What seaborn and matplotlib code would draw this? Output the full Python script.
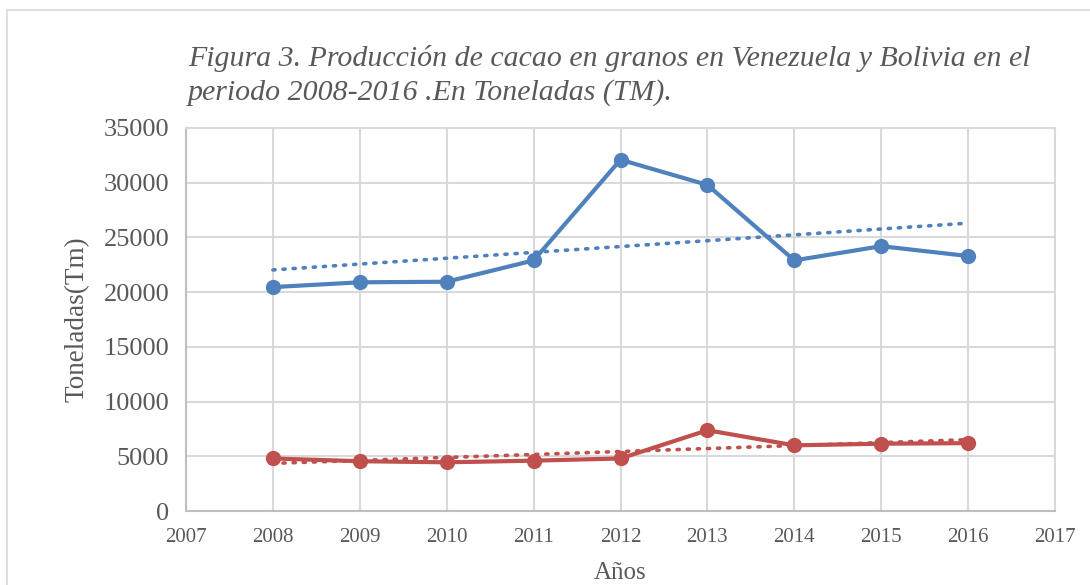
import numpy as np
import pandas as pd
import seaborn as sns
import matplotlib.pyplot as plt
from matplotlib.patches import Rectangle

YEARS = [2008, 2009, 2010, 2011, 2012, 2013, 2014, 2015, 2016]
VENEZUELA = [20460, 20900, 20950, 22900, 32100, 29800, 22900, 24200, 23300]
BOLIVIA = [4800, 4550, 4450, 4600, 4800, 7380, 6000, 6150, 6200]
SERIES = ["Venezuela", "Bolivia"]
COLORS = ["#4F81BD", "#C0504D"]

TITLE = ("Figura 3. Producción de cacao en granos en Venezuela y Bolivia en el\n"
         "periodo 2008-2016 .En Toneladas (TM).")

TEXT = "#595959"
GRID = "#D9D9D9"

df = pd.DataFrame({
    "year": YEARS * 2,
    "tm": VENEZUELA + BOLIVIA,
    "pais": [SERIES[0]] * len(YEARS) + [SERIES[1]] * len(YEARS),
})

sns.set_style("white")
plt.rcParams['font.family'] = ['Liberation Serif', 'DejaVu Serif']

fig = plt.figure(figsize=(10.9, 5.85), dpi=100)
ax = fig.add_axes([186 / 1090, 1 - 511 / 585, 869 / 1090, 383 / 585])

ax.grid(True, color=GRID, linewidth=1.5, zorder=0)
ax.set_axisbelow(True)

# linear trend lines (like Excel's "Tendencia lineal")
for name, color in zip(SERIES, COLORS):
    sns.regplot(data=df[df.pais == name], x="year", y="tm", ax=ax, ci=None,
                scatter=False, truncate=True,
                line_kws=dict(color=color, linestyle=(0, (0.6, 2.2)),
                              linewidth=2.6, dash_capstyle='round', zorder=2))

sns.lineplot(data=df, x="year", y="tm", hue="pais", hue_order=SERIES,
             palette=COLORS, marker="o", markersize=11, markeredgewidth=0,
             linewidth=3, ax=ax, legend=False, zorder=3)

ax.set_xlim(2007, 2017)
ax.set_ylim(0, 35000)
ax.set_xticks(range(2007, 2018))
ax.set_yticks(range(0, 35001, 5000))
ax.tick_params(axis='x', labelsize=15, colors=TEXT, length=0, pad=12)
ax.tick_params(axis='y', labelsize=19, colors=TEXT, length=0, pad=12)

for side in ["top", "right"]:
    ax.spines[side].set_color(GRID)
    ax.spines[side].set_linewidth(1.5)
for side in ["left", "bottom"]:
    ax.spines[side].set_color("#BFBFBF")
    ax.spines[side].set_linewidth(1.5)

ax.set_xlabel("Años", fontsize=18, color=TEXT, labelpad=11)
ax.set_ylabel("Toneladas(Tm)", fontsize=19.5, color=TEXT, labelpad=10)

fig.text(188 / 1090, 1 - 45 / 585, TITLE, fontsize=21.5, style='italic',
         color=TEXT, ha='left', va='top', linespacing=1.32)

# chart-area frame
fig.add_artist(Rectangle((7 / 1090, -0.05), 1.2, 1 - 10 / 585 + 0.05,
                         transform=fig.transFigure, fill=False,
                         edgecolor=GRID, linewidth=1.2))

fig.savefig("out.png", dpi=100)
